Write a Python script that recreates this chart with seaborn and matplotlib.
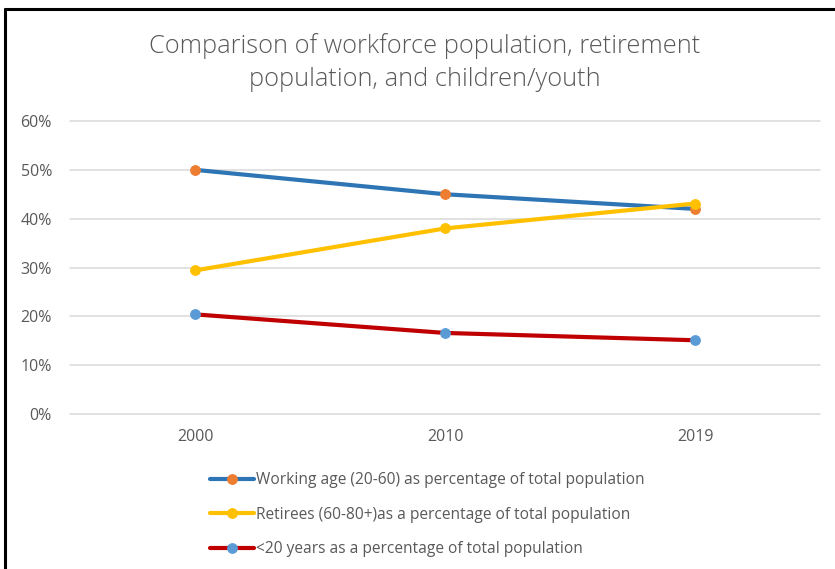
import matplotlib
matplotlib.use("Agg")
import matplotlib.pyplot as plt
from matplotlib.lines import Line2D
import seaborn as sns
import pandas as pd

years = ["2000", "2010", "2019"]
working_age = [0.50, 0.45, 0.42]
retirees = [0.294, 0.38, 0.431]
under_20 = [0.204, 0.166, 0.151]

series_names = [
    "Working age (20-60) as percentage of total population",
    "Retirees (60-80+)as a percentage of total population",
    "<20 years as a percentage of total population",
]
yticks = [0.0, 0.1, 0.2, 0.3, 0.4, 0.5, 0.6]
ytick_labels = ["0%", "10%", "20%", "30%", "40%", "50%", "60%"]
title = "Comparison of workforce population, retirement\npopulation, and children/youth"

line_colors = ["#2E75B6", "#FFC000", "#C00000"]
marker_colors = ["#ED7D31", "#FFC000", "#5B9BD5"]
text_gray = "#595959"

sns.set_theme(style="white")
plt.rcParams["font.family"] = ["Open Sans", "DejaVu Sans"]

fig = plt.figure(figsize=(8.35, 5.69), dpi=100)
W, H = 835, 569
ax = fig.add_axes([70 / W, 1 - 414 / H, 750 / W, (414 - 121) / H])

df = pd.DataFrame({"year": years * 3,
                   "share": working_age + retirees + under_20,
                   "series": [n for n in series_names for _ in years]})

for name, lc, mc in zip(series_names, line_colors, marker_colors):
    sub = df[df["series"] == name]
    sns.lineplot(data=sub, x="year", y="share", ax=ax, color=lc,
                 linewidth=3.0, marker="o", markersize=7,
                 markerfacecolor=mc, markeredgecolor=mc, label=name,
                 sort=False)

ax.set_xlim(-0.5, 2.5)
ax.set_ylim(0, 0.6)
ax.set_yticks(yticks)
ax.set_yticklabels(ytick_labels)
ax.grid(axis="y", color="#D9D9D9", linewidth=1.1)
for gl in ax.get_ygridlines():
    gl.set_clip_on(False)
ax.set_axisbelow(True)
for s in ax.spines.values():
    s.set_visible(False)
ax.tick_params(axis="both", length=0, labelsize=11.5, labelcolor=text_gray)
ax.tick_params(axis="y", pad=13)
ax.tick_params(axis="x", pad=11)
ax.set_xlabel("")
ax.set_ylabel("")

handles, labels = ax.get_legend_handles_labels()
ax.get_legend().remove()
fig.legend(handles, labels, loc="upper left",
           bbox_to_anchor=(196 / W, 1 - 458 / H), frameon=False,
           fontsize=11.2, labelcolor=text_gray, handlelength=2.85,
           handletextpad=0.1, labelspacing=1.2)

fig.text(425 / W, 1 - 63 / H, title, ha="center", va="center",
         fontsize=18.3, color=text_gray, fontweight="light", linespacing=1.42)

# frame edges
fig.add_artist(Line2D([5 / W, 1], [1 - 9 / H, 1 - 9 / H],
                      transform=fig.transFigure, color="black", linewidth=2.2))
fig.add_artist(Line2D([5 / W, 5 / W], [0, 1 - 9 / H],
                      transform=fig.transFigure, color="black", linewidth=2.2))

fig.savefig("out.png", dpi=100)
